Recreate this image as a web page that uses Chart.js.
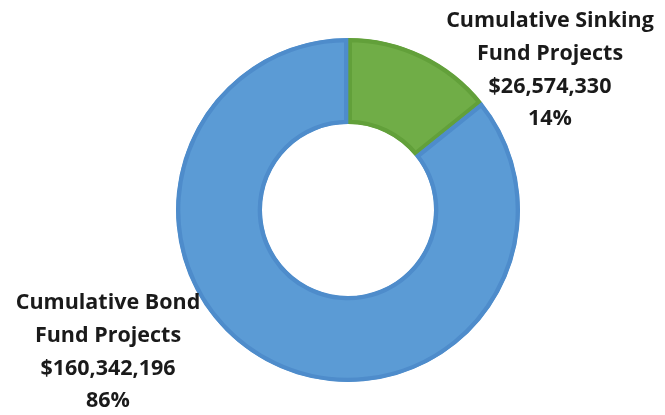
<!DOCTYPE html>
<html>
<head>
<meta charset="utf-8">
<script src="https://cdn.jsdelivr.net/npm/chart.js@4.4.0/dist/chart.umd.min.js"></script>
<style>
  html,body{margin:0;padding:0;background:#fff}
  #wrap{width:665px;height:415px;position:relative}
</style>
</head>
<body>
<div id="wrap"><canvas id="chart-donut" width="665" height="415"></canvas></div>
<script>
const labels = ["Cumulative Sinking Fund Projects","Cumulative Bond Fund Projects"];
const values = [26574330,160342196];
const labelLines = [
  ["Cumulative Sinking","Fund Projects","$26,574,330","14%"],
  ["Cumulative Bond","Fund Projects","$160,342,196","86%"]
];
const fills = ["#70AD47","#5B9BD5"];
const borders = ["#62A03A","#4E8CCB"];

// draws the text blocks beside the ring
const labelPlugin = {
  id:"sliceLabels",
  afterDraw(chart){
    const ctx = chart.ctx;
    const anchors = [{x:550,y:21},{x:108,y:303}];
    ctx.save();
    ctx.fillStyle = "#1a1a1a";
    ctx.textAlign = "center";
    ctx.textBaseline = "middle";
    ctx.font = "bold 21.5px 'Open Sans'";
    labelLines.forEach((lines,i)=>{
      lines.forEach((t,j)=>{
        ctx.fillText(t, anchors[i].x, anchors[i].y + j*32.7, 214);
      });
    });
    ctx.restore();
  }
};

new Chart(document.getElementById("chart-donut").getContext("2d"),{
  type:"doughnut",
  data:{labels,datasets:[{
    data:values,
    backgroundColor:fills,
    borderColor:borders,
    borderWidth:4,
    borderAlign:"inner",
    hoverOffset:0
  }]},
  options:{
    responsive:false,animation:false,cutout:"50%",
    layout:{padding:{top:38,bottom:33,left:176,right:145}},
    plugins:{legend:{display:false},tooltip:{enabled:false}}
  },
  plugins:[labelPlugin]
});
</script>
</body>
</html>
